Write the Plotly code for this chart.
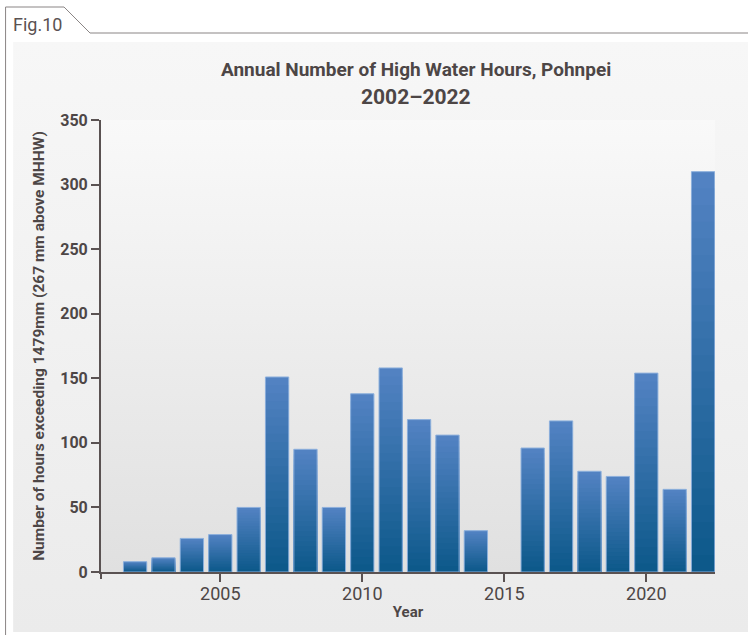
import base64
import plotly.graph_objects as go

years = list(range(2002, 2023))
hours = [8, 11, 26, 29, 50, 151, 95, 50, 138, 158, 118, 106, 32, 0, 96, 117, 78, 74, 154, 64, 310]
x_ticks = [2005, 2010, 2015, 2020]
title_line1 = "Annual Number of High Water Hours, Pohnpei"
title_line2 = "2002\u20132022"
y_title = "Number of hours exceeding 1479mm (267 mm above MHHW)"
x_title = "Year"

W, H = 748, 635
L, R, T, B = 101, 715.5, 120, 572
TXT = "#4d4646"
AX = "#5a5252"


def px(xp):
    return (xp - L) / (R - L)


def py(yp):
    return (B - yp) / (B - T)


def grad_uri(c1, c2):
    svg = ('<svg xmlns="http://www.w3.org/2000/svg" width="10" height="100" preserveAspectRatio="none">'
           '<defs><linearGradient id="g" x1="0" y1="0" x2="0" y2="1">'
           f'<stop offset="0" stop-color="{c1}"/><stop offset="1" stop-color="{c2}"/>'
           '</linearGradient></defs><rect width="10" height="100" fill="url(#g)"/></svg>')
    return "data:image/svg+xml;base64," + base64.b64encode(svg.encode()).decode()


def mix(c1, c2, t):
    return "rgb(%d,%d,%d)" % tuple(round(a + (b - a) * t) for a, b in zip(c1, c2))


top_c = (82, 130, 194)
bot_c = (10, 87, 136)

fig = go.Figure()
N = 24
for k in range(N):
    f = 1 - k / N
    fig.add_trace(go.Bar(
        x=years, y=[v * f for v in hours],
        marker=dict(color=mix(bot_c, top_c, f), line=dict(width=0)),
        hoverinfo="skip", showlegend=False,
    ))
fig.add_trace(go.Bar(
    x=years, y=hours,
    marker=dict(color="rgba(0,0,0,0)",
                line=dict(color="#8db0dc", width=[1 if v > 0 else 0 for v in hours])),
    showlegend=False, hovertemplate="%{x}: %{y}<extra></extra>",
))

shapes = [
    dict(type="path", xref="paper", yref="paper",
         path=f"M {px(5.5)},{py(640)} L {px(5.5)},{py(7)} L {px(64)},{py(7)} L {px(90)},{py(33)} L {px(760)},{py(33)}",
         line=dict(color="#8a8585", width=1)),
    dict(type="line", xref="paper", yref="paper", x0=0, x1=0, y0=0, y1=py(579),
         line=dict(color=AX, width=2)),
]

images = [
    dict(source=grad_uri("#f7f7f7", "#ebebeb"), xref="paper", yref="paper",
         x=px(13), y=py(42), sizex=px(760) - px(13), sizey=py(42) - py(632),
         sizing="stretch", layer="below", xanchor="left", yanchor="top"),
    dict(source=grad_uri("#f9f9f9", "#e0e0e0"), xref="paper", yref="paper",
         x=0, y=1, sizex=1, sizey=1,
         sizing="stretch", layer="below", xanchor="left", yanchor="top"),
]

annotations = [
    dict(text="Fig.10", xref="paper", yref="paper", x=px(11), y=py(25), xanchor="left", yanchor="middle",
         showarrow=False, font=dict(family="Roboto", size=18, color="#5a5252")),
    dict(text=f"<b>{title_line1}</b>", xref="paper", yref="paper", x=px(416), y=py(70),
         xanchor="center", yanchor="middle", showarrow=False,
         font=dict(family="Roboto", size=19, color=TXT)),
    dict(text=f"<b>{title_line2}</b>", xref="paper", yref="paper", x=px(416), y=py(97),
         xanchor="center", yanchor="middle", showarrow=False,
         font=dict(family="Roboto", size=21, color=TXT)),
]

fig.update_layout(
    width=W, height=H,
    margin=dict(l=L, r=W - R, t=T, b=H - B, pad=0),
    paper_bgcolor="white", plot_bgcolor="rgba(0,0,0,0)",
    barmode="overlay", bargap=0.18,
    shapes=shapes, images=images, annotations=annotations,
    font=dict(family="Roboto", color=TXT),
    xaxis=dict(range=[2000.8, 2022.42], tickvals=x_ticks, ticks="outside", ticklen=8, tickwidth=2,
               tickcolor=AX, showline=True, linecolor=AX, linewidth=2, showgrid=False, zeroline=False,
               tickfont=dict(size=18, color=TXT), ticklabelstandoff=-4,
               title=dict(text=f"<b>{x_title}</b>", font=dict(size=15, color=TXT), standoff=4)),
    yaxis=dict(range=[0, 350], dtick=50, ticks="outside", ticklen=8, tickwidth=2, tickcolor=AX,
               showline=True, linecolor=AX, linewidth=2, showgrid=False, zeroline=False,
               tickfont=dict(size=16, color=TXT), tickprefix="<b>", ticksuffix="</b>",
               title=dict(text=f"<b>{y_title}</b>", font=dict(size=15.5, color=TXT), standoff=12)),
)

fig.write_html("out.html", config={"displayModeBar": False},
               post_script="document.body.style.margin='0';")
